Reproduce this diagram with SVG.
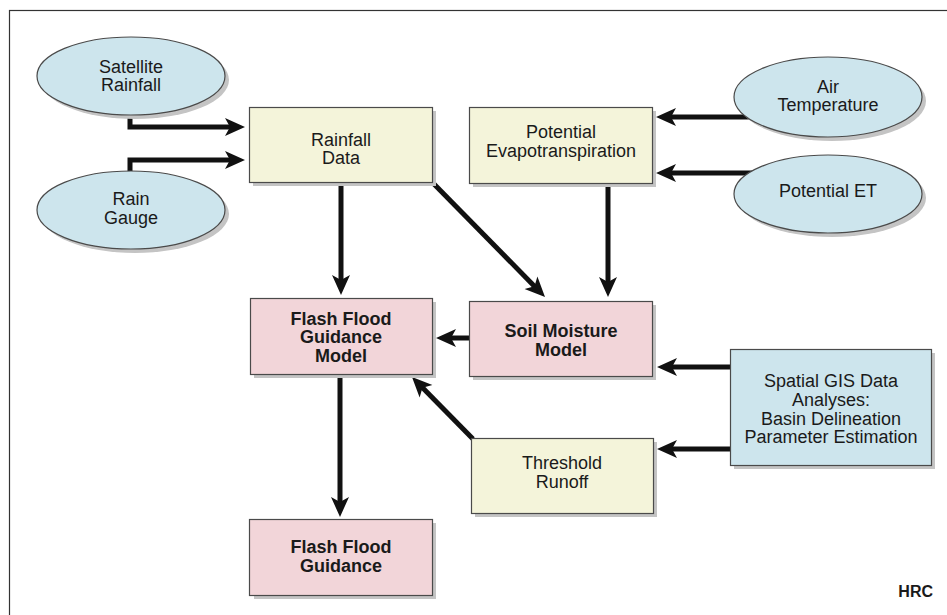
<svg xmlns="http://www.w3.org/2000/svg" width="947" height="615" viewBox="0 0 947 615">
<style>
.t{font-family:"Liberation Sans",Arial,sans-serif;font-size:18px;fill:#1a1a1a;text-anchor:middle}
.b{font-weight:bold}
.ell{fill:#cde5ed;stroke:#4a4a4a;stroke-width:1.2}
.yel{fill:#f4f4da;stroke:#4a4a4a;stroke-width:1.2}
.pink{fill:#f2d5d9;stroke:#4a4a4a;stroke-width:1.2}
.blue{fill:#cde5ed;stroke:#4a4a4a;stroke-width:1.2}
.sh{fill:#c4c4c4}
.c{fill:none;stroke:#111;stroke-width:5;marker-end:url(#ah)}
</style>
<defs>
<marker id="ah" markerUnits="userSpaceOnUse" markerWidth="22" markerHeight="20" viewBox="0 -10 22 20" refX="8" refY="0" orient="auto">
<path d="M0,-9 L20,0 L0,9 L5,0 Z" fill="#111"/>
</marker>
</defs>
<rect x="0" y="0" width="947" height="615" fill="#fff"/>
<rect x="9.5" y="10.5" width="946" height="620" fill="none" stroke="#333" stroke-width="1.2"/>
<g id="connectors">
<path class="c" d="M130,112 V127 H233"/>
<path class="c" d="M130,174 V160 H233"/>
<path class="c" d="M341,182 V283"/>
<path class="c" d="M432,182 L536.6,288.4"/>
<path class="c" d="M608,183 V285"/>
<path class="c" d="M752,117 H668"/>
<path class="c" d="M755,173 H668"/>
<path class="c" d="M469,338 H448"/>
<path class="c" d="M730,367 H669"/>
<path class="c" d="M730,449 H669"/>
<path class="c" d="M473,439 L420.4,385.6"/>
<path class="c" d="M340,374 V505"/>
</g>
<g id="satellite-rainfall">
<ellipse class="sh" cx="135" cy="80" rx="94" ry="39"/>
<ellipse class="ell" cx="131" cy="76" rx="94" ry="39"/>
<text class="t" x="131" y="73">Satellite</text>
<text class="t" x="131" y="91">Rainfall</text>
</g>
<g id="rain-gauge">
<ellipse class="sh" cx="135" cy="214" rx="94" ry="39"/>
<ellipse class="ell" cx="131" cy="210" rx="94" ry="39"/>
<text class="t" x="131" y="205">Rain</text>
<text class="t" x="131" y="224">Gauge</text>
</g>
<g id="rainfall-data">
<rect class="sh" x="253" y="111" width="183" height="75"/>
<rect class="yel" x="249.5" y="107.5" width="183" height="75"/>
<text class="t" x="341" y="146">Rainfall</text>
<text class="t" x="341" y="164">Data</text>
</g>
<g id="potential-evapotranspiration">
<rect class="sh" x="473" y="111" width="183" height="76"/>
<rect class="yel" x="469.5" y="107.5" width="183" height="76"/>
<text class="t" x="561" y="138">Potential</text>
<text class="t" x="561" y="157">Evapotranspiration</text>
</g>
<g id="air-temperature">
<ellipse class="sh" cx="832" cy="101" rx="94" ry="40"/>
<ellipse class="ell" cx="828" cy="97" rx="94" ry="40"/>
<text class="t" x="828" y="93">Air</text>
<text class="t" x="828" y="111">Temperature</text>
</g>
<g id="potential-et">
<ellipse class="sh" cx="832" cy="198" rx="94" ry="39"/>
<ellipse class="ell" cx="828" cy="194" rx="94" ry="39"/>
<text class="t" x="828" y="197">Potential ET</text>
</g>
<g id="ffg-model">
<rect class="sh" x="254" y="302" width="182" height="76"/>
<rect class="pink" x="250.5" y="298.5" width="182" height="76"/>
<text class="t b" x="341" y="325">Flash Flood</text>
<text class="t b" x="341" y="343">Guidance</text>
<text class="t b" x="341" y="362">Model</text>
</g>
<g id="soil-moisture-model">
<rect class="sh" x="473" y="305" width="183" height="75"/>
<rect class="pink" x="469.5" y="301.5" width="183" height="75"/>
<text class="t b" x="561" y="337">Soil Moisture</text>
<text class="t b" x="561" y="356">Model</text>
</g>
<g id="spatial-gis">
<rect class="sh" x="734" y="353" width="201" height="116"/>
<rect class="blue" x="730.5" y="349.5" width="201" height="116"/>
<text class="t" x="831" y="387">Spatial GIS Data</text>
<text class="t" x="831" y="406">Analyses:</text>
<text class="t" x="831" y="425">Basin Delineation</text>
<text class="t" x="831" y="443">Parameter Estimation</text>
</g>
<g id="threshold-runoff">
<rect class="sh" x="475" y="442" width="182" height="75"/>
<rect class="yel" x="471.5" y="438.5" width="182" height="75"/>
<text class="t" x="562" y="469">Threshold</text>
<text class="t" x="562" y="488">Runoff</text>
</g>
<g id="ffg">
<rect class="sh" x="254" y="523" width="182" height="76"/>
<rect class="pink" x="249.5" y="519.5" width="183" height="76"/>
<text class="t b" x="341" y="553">Flash Flood</text>
<text class="t b" x="341" y="572">Guidance</text>
</g>
<text class="t b" x="933" y="597" style="font-size:16px;text-anchor:end">HRC</text>
</svg>
